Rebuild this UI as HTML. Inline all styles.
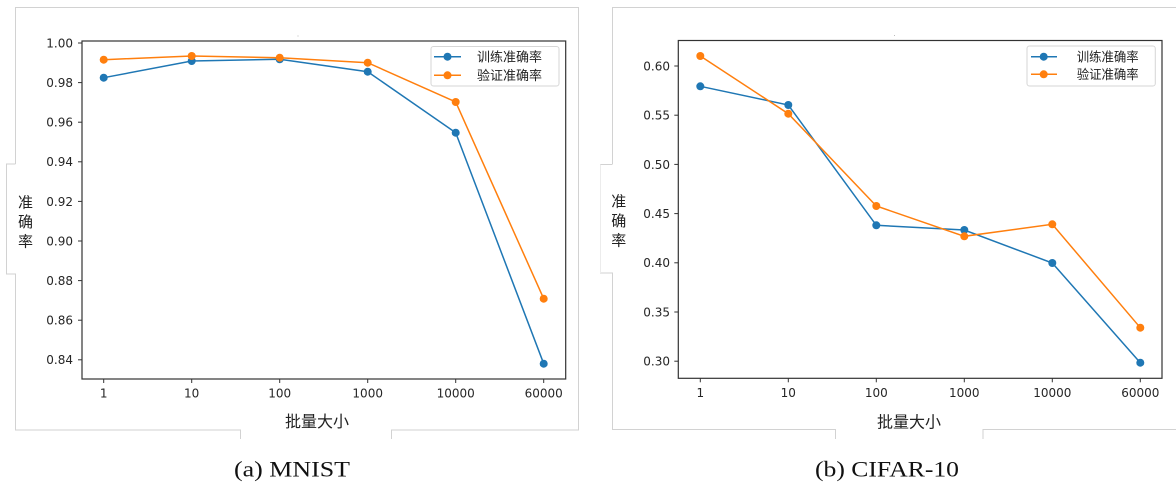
<!DOCTYPE html>
<html>
<head>
<meta charset="utf-8">
<style>
  html, body { margin: 0; padding: 0; background: #ffffff; }
  svg { display: block; }
  .tk { font-family: "DejaVu Sans", "Liberation Sans", sans-serif; font-size: 12px; fill: #262626; }
  .cjk { font-family: "Noto Sans CJK SC", "WenQuanYi Zen Hei", sans-serif; fill: #222; }
  .cap { font-family: "Liberation Serif", serif; font-size: 22px; fill: #111; }
</style>
</head>
<body>
<svg width="1176" height="486" viewBox="0 0 1176 486" xmlns="http://www.w3.org/2000/svg">
  <rect x="0" y="0" width="1176" height="486" fill="#fff"/>

  <!-- ===== LEFT PANEL FRAME ===== -->
  <g fill="none" stroke="#d2d2d2" stroke-width="1">
    <polyline points="15.5,164 15.5,7.5 578.5,7.5 578.5,430 391.5,430 391.5,439"/>
    <polyline points="240.5,439 240.5,430 15.5,430 15.5,274 6.5,274 6.5,164 15.5,164"/>
  </g>
  <rect x="297.5" y="35.5" width="1" height="1" fill="#bbb"/>

  <!-- Left axes -->
  <g stroke="#333" stroke-width="1.2" fill="none">
    <rect x="82" y="41" width="483.7" height="338"/>
  </g>
  <!-- y ticks -->
  <g stroke="#333" stroke-width="1">
    <line x1="78" y1="43" x2="82" y2="43"/>
    <line x1="78" y1="82.6" x2="82" y2="82.6"/>
    <line x1="78" y1="122.2" x2="82" y2="122.2"/>
    <line x1="78" y1="161.8" x2="82" y2="161.8"/>
    <line x1="78" y1="201.4" x2="82" y2="201.4"/>
    <line x1="78" y1="241" x2="82" y2="241"/>
    <line x1="78" y1="280.6" x2="82" y2="280.6"/>
    <line x1="78" y1="320.2" x2="82" y2="320.2"/>
    <line x1="78" y1="359.8" x2="82" y2="359.8"/>
    <line x1="103.7" y1="379" x2="103.7" y2="383"/>
    <line x1="191.7" y1="379" x2="191.7" y2="383"/>
    <line x1="279.7" y1="379" x2="279.7" y2="383"/>
    <line x1="367.7" y1="379" x2="367.7" y2="383"/>
    <line x1="455.7" y1="379" x2="455.7" y2="383"/>
    <line x1="543.7" y1="379" x2="543.7" y2="383"/>
  </g>
  <g class="tk" text-anchor="end">
    <text x="73" y="47.4">1.00</text>
    <text x="73" y="87">0.98</text>
    <text x="73" y="126.6">0.96</text>
    <text x="73" y="166.2">0.94</text>
    <text x="73" y="205.8">0.92</text>
    <text x="73" y="245.4">0.90</text>
    <text x="73" y="285">0.88</text>
    <text x="73" y="324.6">0.86</text>
    <text x="73" y="364.2">0.84</text>
  </g>
  <g class="tk" text-anchor="middle">
    <text x="103.7" y="397.5">1</text>
    <text x="191.7" y="397.5">10</text>
    <text x="279.7" y="397.5">100</text>
    <text x="367.7" y="397.5">1000</text>
    <text x="455.7" y="397.5">10000</text>
    <text x="543.7" y="397.5">60000</text>
  </g>
  <!-- series left -->
  <polyline fill="none" stroke="#1f77b4" stroke-width="1.5" points="103.7,77.7 191.7,61 279.7,59.3 367.7,71.7 455.7,132.7 543.7,363.7"/>
  <g fill="#1f77b4">
    <circle cx="103.7" cy="77.7" r="4"/><circle cx="191.7" cy="61" r="4"/><circle cx="279.7" cy="59.3" r="4"/>
    <circle cx="367.7" cy="71.7" r="4"/><circle cx="455.7" cy="132.7" r="4"/><circle cx="543.7" cy="363.7" r="4"/>
  </g>
  <polyline fill="none" stroke="#ff7f0e" stroke-width="1.5" points="103.7,59.7 191.7,56 279.7,57.7 367.7,62.7 455.7,102 543.7,298.7"/>
  <g fill="#ff7f0e">
    <circle cx="103.7" cy="59.7" r="4"/><circle cx="191.7" cy="56" r="4"/><circle cx="279.7" cy="57.7" r="4"/>
    <circle cx="367.7" cy="62.7" r="4"/><circle cx="455.7" cy="102" r="4"/><circle cx="543.7" cy="298.7" r="4"/>
  </g>
  <!-- legend left -->
  <rect x="431" y="46.5" width="128" height="39.5" rx="2.5" fill="#fff" fill-opacity="0.85" stroke="#d6d6d6" stroke-width="1"/>
  <line x1="434" y1="56.7" x2="461" y2="56.7" stroke="#1f77b4" stroke-width="1.5"/>
  <circle cx="447.5" cy="56.7" r="4" fill="#1f77b4"/>
  <line x1="434" y1="75.3" x2="461" y2="75.3" stroke="#ff7f0e" stroke-width="1.5"/>
  <circle cx="447.5" cy="75.3" r="4" fill="#ff7f0e"/>
  <text class="cjk" x="477" y="61.3" font-size="13" textLength="65" lengthAdjust="spacingAndGlyphs">训练准确率</text>
  <text class="cjk" x="477" y="79.9" font-size="13" textLength="65" lengthAdjust="spacingAndGlyphs">验证准确率</text>
  <!-- axis labels left -->
  <g class="cjk" font-size="15" text-anchor="middle">
    <text x="25.5" y="207.5">准</text>
    <text x="25.5" y="227">确</text>
    <text x="25.5" y="246.5">率</text>
  </g>
  <text class="cjk" x="317" y="427" font-size="16" text-anchor="middle">批量大小</text>
  <text class="cap" x="292" y="476.5" text-anchor="middle" textLength="116" lengthAdjust="spacingAndGlyphs">(a) MNIST</text>

  <!-- ===== RIGHT PANEL FRAME ===== -->
  <g fill="none" stroke="#d2d2d2" stroke-width="1">
    <polyline points="612.5,164 612.5,7.5 1176,7.5"/>
    <polyline points="1176,429.5 983,429.5 983,439"/>
    <polyline points="835.5,439 835.5,429.5 612.5,429.5 612.5,273 600,273"/>
    <line x1="600" y1="164.5" x2="612.5" y2="164.5"/>
  </g>
  <line x1="600.5" y1="164.5" x2="600.5" y2="273" stroke="#ececec" stroke-width="1"/>
  <rect x="894" y="35" width="1" height="1" fill="#bbb"/>

  <!-- Right axes -->
  <rect x="678.3" y="40.5" width="483.7" height="337.8" fill="none" stroke="#333" stroke-width="1.2"/>
  <g stroke="#333" stroke-width="1">
    <line x1="674.3" y1="66" x2="678.3" y2="66"/>
    <line x1="674.3" y1="115.2" x2="678.3" y2="115.2"/>
    <line x1="674.3" y1="164.4" x2="678.3" y2="164.4"/>
    <line x1="674.3" y1="213.6" x2="678.3" y2="213.6"/>
    <line x1="674.3" y1="262.8" x2="678.3" y2="262.8"/>
    <line x1="674.3" y1="312" x2="678.3" y2="312"/>
    <line x1="674.3" y1="361.2" x2="678.3" y2="361.2"/>
    <line x1="700.3" y1="378.3" x2="700.3" y2="382.3"/>
    <line x1="788.3" y1="378.3" x2="788.3" y2="382.3"/>
    <line x1="876.3" y1="378.3" x2="876.3" y2="382.3"/>
    <line x1="964.3" y1="378.3" x2="964.3" y2="382.3"/>
    <line x1="1052.3" y1="378.3" x2="1052.3" y2="382.3"/>
    <line x1="1140.3" y1="378.3" x2="1140.3" y2="382.3"/>
  </g>
  <g class="tk" text-anchor="end">
    <text x="670" y="70.4">0.60</text>
    <text x="670" y="119.6">0.55</text>
    <text x="670" y="168.8">0.50</text>
    <text x="670" y="218">0.45</text>
    <text x="670" y="267.2">0.40</text>
    <text x="670" y="316.4">0.35</text>
    <text x="670" y="365.6">0.30</text>
  </g>
  <g class="tk" text-anchor="middle">
    <text x="700.3" y="396.8">1</text>
    <text x="788.3" y="396.8">10</text>
    <text x="876.3" y="396.8">100</text>
    <text x="964.3" y="396.8">1000</text>
    <text x="1052.3" y="396.8">10000</text>
    <text x="1140.3" y="396.8">60000</text>
  </g>
  <!-- series right -->
  <polyline fill="none" stroke="#1f77b4" stroke-width="1.5" points="700.3,86.3 788.3,105 876.3,225.3 964.3,230 1052.3,263 1140.3,362.7"/>
  <g fill="#1f77b4">
    <circle cx="700.3" cy="86.3" r="4"/><circle cx="788.3" cy="105" r="4"/><circle cx="876.3" cy="225.3" r="4"/>
    <circle cx="964.3" cy="230" r="4"/><circle cx="1052.3" cy="263" r="4"/><circle cx="1140.3" cy="362.7" r="4"/>
  </g>
  <polyline fill="none" stroke="#ff7f0e" stroke-width="1.5" points="700.3,56 788.3,113.7 876.3,206 964.3,236.3 1052.3,224.3 1140.3,327.7"/>
  <g fill="#ff7f0e">
    <circle cx="700.3" cy="56" r="4"/><circle cx="788.3" cy="113.7" r="4"/><circle cx="876.3" cy="206" r="4"/>
    <circle cx="964.3" cy="236.3" r="4"/><circle cx="1052.3" cy="224.3" r="4"/><circle cx="1140.3" cy="327.7" r="4"/>
  </g>
  <!-- legend right -->
  <rect x="1027" y="46" width="128.3" height="40" rx="2.5" fill="#fff" fill-opacity="0.85" stroke="#d6d6d6" stroke-width="1"/>
  <line x1="1031" y1="56.7" x2="1057" y2="56.7" stroke="#1f77b4" stroke-width="1.5"/>
  <circle cx="1043.7" cy="56.7" r="4" fill="#1f77b4"/>
  <line x1="1031" y1="74.3" x2="1057" y2="74.3" stroke="#ff7f0e" stroke-width="1.5"/>
  <circle cx="1043.7" cy="74.3" r="4" fill="#ff7f0e"/>
  <text class="cjk" x="1076.7" y="61.3" font-size="13" textLength="62" lengthAdjust="spacingAndGlyphs">训练准确率</text>
  <text class="cjk" x="1076.7" y="78.9" font-size="13" textLength="62" lengthAdjust="spacingAndGlyphs">验证准确率</text>
  <!-- axis labels right -->
  <g class="cjk" font-size="15" text-anchor="middle">
    <text x="618.8" y="206.5">准</text>
    <text x="618.8" y="226">确</text>
    <text x="618.8" y="245.5">率</text>
  </g>
  <text class="cjk" x="909" y="427.5" font-size="16" text-anchor="middle">批量大小</text>
  <text class="cap" x="887" y="476.5" text-anchor="middle" textLength="144" lengthAdjust="spacingAndGlyphs">(b) CIFAR-10</text>
</svg>
</body>
</html>
